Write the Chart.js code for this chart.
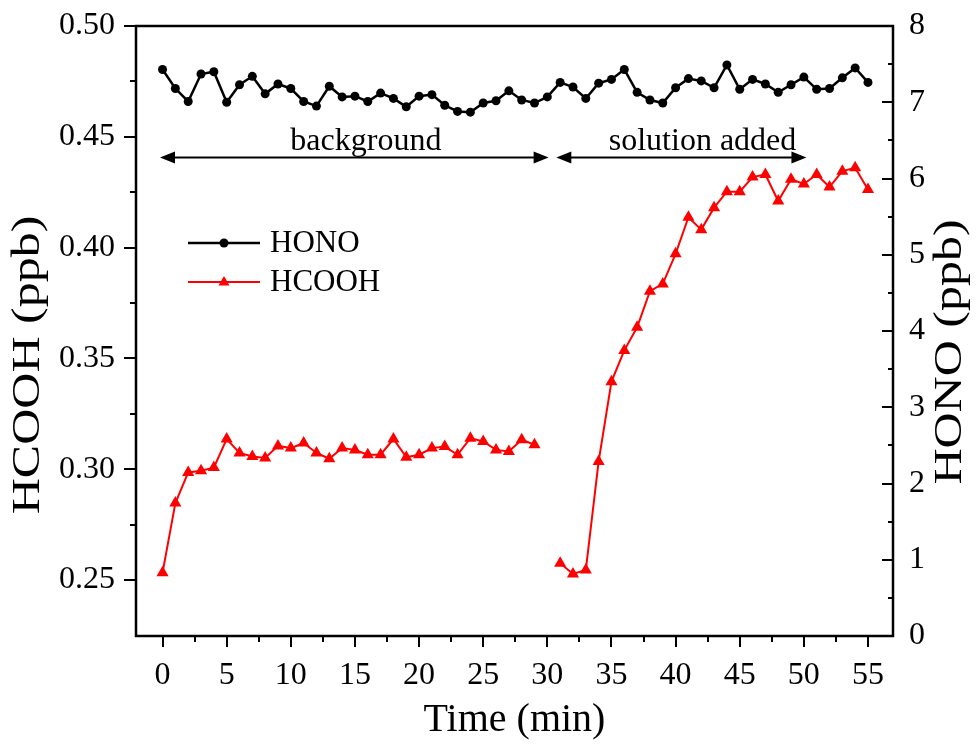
<!DOCTYPE html>
<html>
<head>
<meta charset="utf-8">
<script src="https://cdn.jsdelivr.net/npm/chart.js@4.4.1/dist/chart.umd.min.js"></script>
<style>
html, body { margin: 0; padding: 0; background: #fff; }
#wrap { width: 976px; height: 744px; }
</style>
</head>
<body>
<div id="wrap"><canvas id="c" width="976" height="744"></canvas></div>
<script>
// time axis (min)
var timeMin = [];
for (var i = 0; i <= 55; i++) { timeMin.push(i); }

// HONO (ppb), right axis
var honoPpb = [7.43, 7.18, 7.01, 7.37, 7.40, 7.00, 7.23, 7.34, 7.11, 7.24,
    7.18, 7.01, 6.95, 7.21, 7.07, 7.08, 7.01, 7.12, 7.05, 6.94,
    7.08, 7.10, 6.96, 6.88, 6.87, 6.99, 7.02, 7.15, 7.03, 6.99,
    7.07, 7.26, 7.20, 7.05, 7.25, 7.30, 7.43, 7.13, 7.03, 6.99,
    7.19, 7.31, 7.28, 7.19, 7.49, 7.17, 7.30, 7.24, 7.13, 7.23,
    7.33, 7.17, 7.18, 7.32, 7.45, 7.26];

// HCOOH (ppb), left axis  (no point at 30 min)
var hcoohPpb = [0.2533, 0.2847, 0.2985, 0.2993, 0.3007, 0.3136, 0.3073, 0.3057, 0.3050, 0.3105,
    0.3095, 0.3118, 0.3073, 0.3047, 0.3095, 0.3087, 0.3065, 0.3065, 0.3136, 0.3054,
    0.3065, 0.3095, 0.3102, 0.3065, 0.3140, 0.3125, 0.3087, 0.3080, 0.3133, 0.3110,
    null, 0.2575, 0.2527, 0.2545, 0.3035, 0.3395, 0.3536, 0.3640, 0.3803, 0.3836,
    0.3972, 0.4137, 0.4081, 0.4180, 0.4252, 0.4252, 0.4318, 0.4330, 0.4210, 0.4308,
    0.4287, 0.4330, 0.4273, 0.4345, 0.4360, 0.4262];

// tick labels
var xTicks = [0, 5, 10, 15, 20, 25, 30, 35, 40, 45, 50, 55];
var leftTicks = [0.25, 0.30, 0.35, 0.40, 0.45, 0.50];
var rightTicks = [0, 1, 2, 3, 4, 5, 6, 7, 8];

// annotations (min / ppb)
var periodNames = ['background', 'solution added'];
var periodStart = [-0.2, 30.7];
var periodEnd = [30.1, 50.2];
var periodTextX = [15.85, 42.1];
var arrowLevel = 0.4407;
var textLevel = 0.4479;

var FONT = "'Liberation Serif', 'Times New Roman', serif";

//データセットを作成する
function toPoints(values) {
    var pts = [];
    for (var i = 0; i < timeMin.length; i++) {
        pts.push({ x: timeMin[i], y: values[i] });
    }
    return pts;
}

function fixedTicks(list) {
    return function (scale) {
        scale.ticks = list.map(function (v) { return { value: v }; });
    };
}

// 枠と目盛り線を描く
var framePlugin = {
    id: 'frame',
    afterDraw: function (chart) {
        var ctx = chart.ctx;
        var a = chart.chartArea;
        var sx = chart.scales.x, sl = chart.scales.y, sr = chart.scales.y1;
        ctx.save();
        ctx.strokeStyle = '#000';
        ctx.lineWidth = 2;
        ctx.beginPath();
        // bottom ticks (outward)
        for (var t = 0; t <= 55; t += 2.5) {
            var px = Math.round(sx.getPixelForValue(t));
            var len = (t % 5 === 0) ? 11 : 6;
            ctx.moveTo(px, a.bottom);
            ctx.lineTo(px, a.bottom + len);
        }
        // left ticks (outward)
        for (var k = 0; k <= 10; k++) {
            var v = 0.25 + k * 0.025;
            var py = Math.round(sl.getPixelForValue(v));
            var l2 = (k % 2 === 0) ? 12 : 6;
            ctx.moveTo(a.left, py);
            ctx.lineTo(a.left - l2, py);
        }
        // right ticks (inward)
        for (var m = 0; m <= 16; m++) {
            var v2 = m * 0.5;
            var py2 = Math.round(sr.getPixelForValue(v2));
            var l3 = (m % 2 === 0) ? 11 : 5;
            ctx.moveTo(a.right, py2);
            ctx.lineTo(a.right - l3, py2);
        }
        ctx.stroke();
        // box
        ctx.lineWidth = 2.5;
        ctx.strokeRect(a.left, a.top, a.right - a.left, a.bottom - a.top);

        // period arrows
        ctx.fillStyle = '#000';
        ctx.lineWidth = 2;
        var ay = sl.getPixelForValue(arrowLevel);
        var ty = sl.getPixelForValue(textLevel);
        ctx.font = '32px ' + FONT;
        ctx.textAlign = 'center';
        ctx.textBaseline = 'middle';
        for (var p = 0; p < periodNames.length; p++) {
            var x1 = sx.getPixelForValue(periodStart[p]);
            var x2 = sx.getPixelForValue(periodEnd[p]);
            ctx.beginPath();
            ctx.moveTo(x1 + 10, ay);
            ctx.lineTo(x2 - 10, ay);
            ctx.stroke();
            ctx.beginPath();
            ctx.moveTo(x1, ay);
            ctx.lineTo(x1 + 15, ay - 6);
            ctx.lineTo(x1 + 15, ay + 6);
            ctx.closePath();
            ctx.fill();
            ctx.beginPath();
            ctx.moveTo(x2, ay);
            ctx.lineTo(x2 - 15, ay - 6);
            ctx.lineTo(x2 - 15, ay + 6);
            ctx.closePath();
            ctx.fill();
            ctx.fillText(periodNames[p], sx.getPixelForValue(periodTextX[p]), ty);
        }

        // legend
        var ds = chart.data.datasets;
        var ly = [243, 282];
        ctx.font = '31px ' + FONT;
        ctx.textAlign = 'left';
        for (var d = 0; d < ds.length; d++) {
            ctx.strokeStyle = ds[d].borderColor;
            ctx.lineWidth = ds[d].borderWidth;
            ctx.beginPath();
            ctx.moveTo(188, ly[d]);
            ctx.lineTo(260, ly[d]);
            ctx.stroke();
            ctx.fillStyle = ds[d].borderColor;
            ctx.beginPath();
            if (ds[d].pointStyle === 'circle') {
                ctx.arc(224, ly[d], 4.5, 0, Math.PI * 2);
            } else {
                ctx.moveTo(224, ly[d] - 6);
                ctx.lineTo(229.5, ly[d] + 3.5);
                ctx.lineTo(218.5, ly[d] + 3.5);
                ctx.closePath();
            }
            ctx.fill();
            ctx.fillStyle = '#000';
            ctx.fillText(ds[d].label, 270, ly[d] + 1);
        }

        // y axis titles (condensed like the original)
        ctx.font = '50px ' + FONT;
        ctx.textAlign = 'center';
        ctx.textBaseline = 'middle';
        ctx.fillStyle = '#000';
        var titles = [['HCOOH (ppb)', 28, 365], ['HONO (ppb)', 950, 352]];
        for (var q = 0; q < titles.length; q++) {
            ctx.save();
            ctx.translate(titles[q][1], titles[q][2]);
            ctx.rotate(-Math.PI / 2);
            ctx.scale(1, 0.82);
            ctx.fillText(titles[q][0], 0, 0);
            ctx.restore();
        }
        ctx.restore();
    }
};

var tickFont = { family: FONT, size: 32 };

function fitY(w) {
    return function (s) {
        s.width = w;
        s.paddingTop = 0;
        s.paddingBottom = 0;
    };
}

var config = {
    type: 'line',
    data: {
        datasets: [{
            label: 'HONO',
            data: toPoints(honoPpb),
            yAxisID: 'y1',
            borderColor: '#000000',
            backgroundColor: '#000000',
            borderWidth: 2.5,
            pointStyle: 'circle',
            pointRadius: 4.5,
            pointBorderWidth: 0,
            tension: 0
        }, {
            label: 'HCOOH',
            data: toPoints(hcoohPpb),
            yAxisID: 'y',
            borderColor: '#ff0000',
            backgroundColor: '#ff0000',
            borderWidth: 2,
            pointStyle: 'triangle',
            pointRadius: 7,
            pointBorderWidth: 0,
            spanGaps: false,
            tension: 0
        }]
    },
    options: {
        responsive: false,
        animation: false,
        devicePixelRatio: 1,
        layout: { padding: { top: 26, left: 0, right: 0, bottom: 0 } },
        plugins: {
            legend: { display: false },
            tooltip: { enabled: false }
        },
        scales: {
            x: {
                type: 'linear',
                min: -2.07,
                max: 56.95,
                afterBuildTicks: fixedTicks(xTicks),
                afterFit: function (s) { s.height = 108; s.paddingLeft = 0; s.paddingRight = 0; },
                grid: { display: false, drawTicks: false },
                border: { display: false },
                ticks: { font: tickFont, color: '#000', padding: 20, maxRotation: 0, autoSkip: false },
                title: { display: true, text: 'Time (min)', color: '#000', font: { family: FONT, size: 40 }, padding: { top: 0, bottom: 0 } }
            },
            y: {
                position: 'left',
                min: 0.2247,
                max: 0.5,
                afterBuildTicks: fixedTicks(leftTicks),
                afterFit: fitY(136),
                grid: { display: false, drawTicks: false },
                border: { display: false },
                ticks: { font: tickFont, color: '#000', padding: 21, callback: function (v) { return v.toFixed(2); } }
            },
            y1: {
                position: 'right',
                min: 0,
                max: 8,
                afterBuildTicks: fixedTicks(rightTicks),
                afterFit: fitY(83),
                grid: { display: false, drawTicks: false },
                border: { display: false },
                ticks: { font: tickFont, color: '#000', padding: 16 }
            }
        }
    },
    plugins: [framePlugin]
};

//chart図を作成する
var chart = new Chart(document.getElementById('c'), config);
</script>
</body>
</html>
